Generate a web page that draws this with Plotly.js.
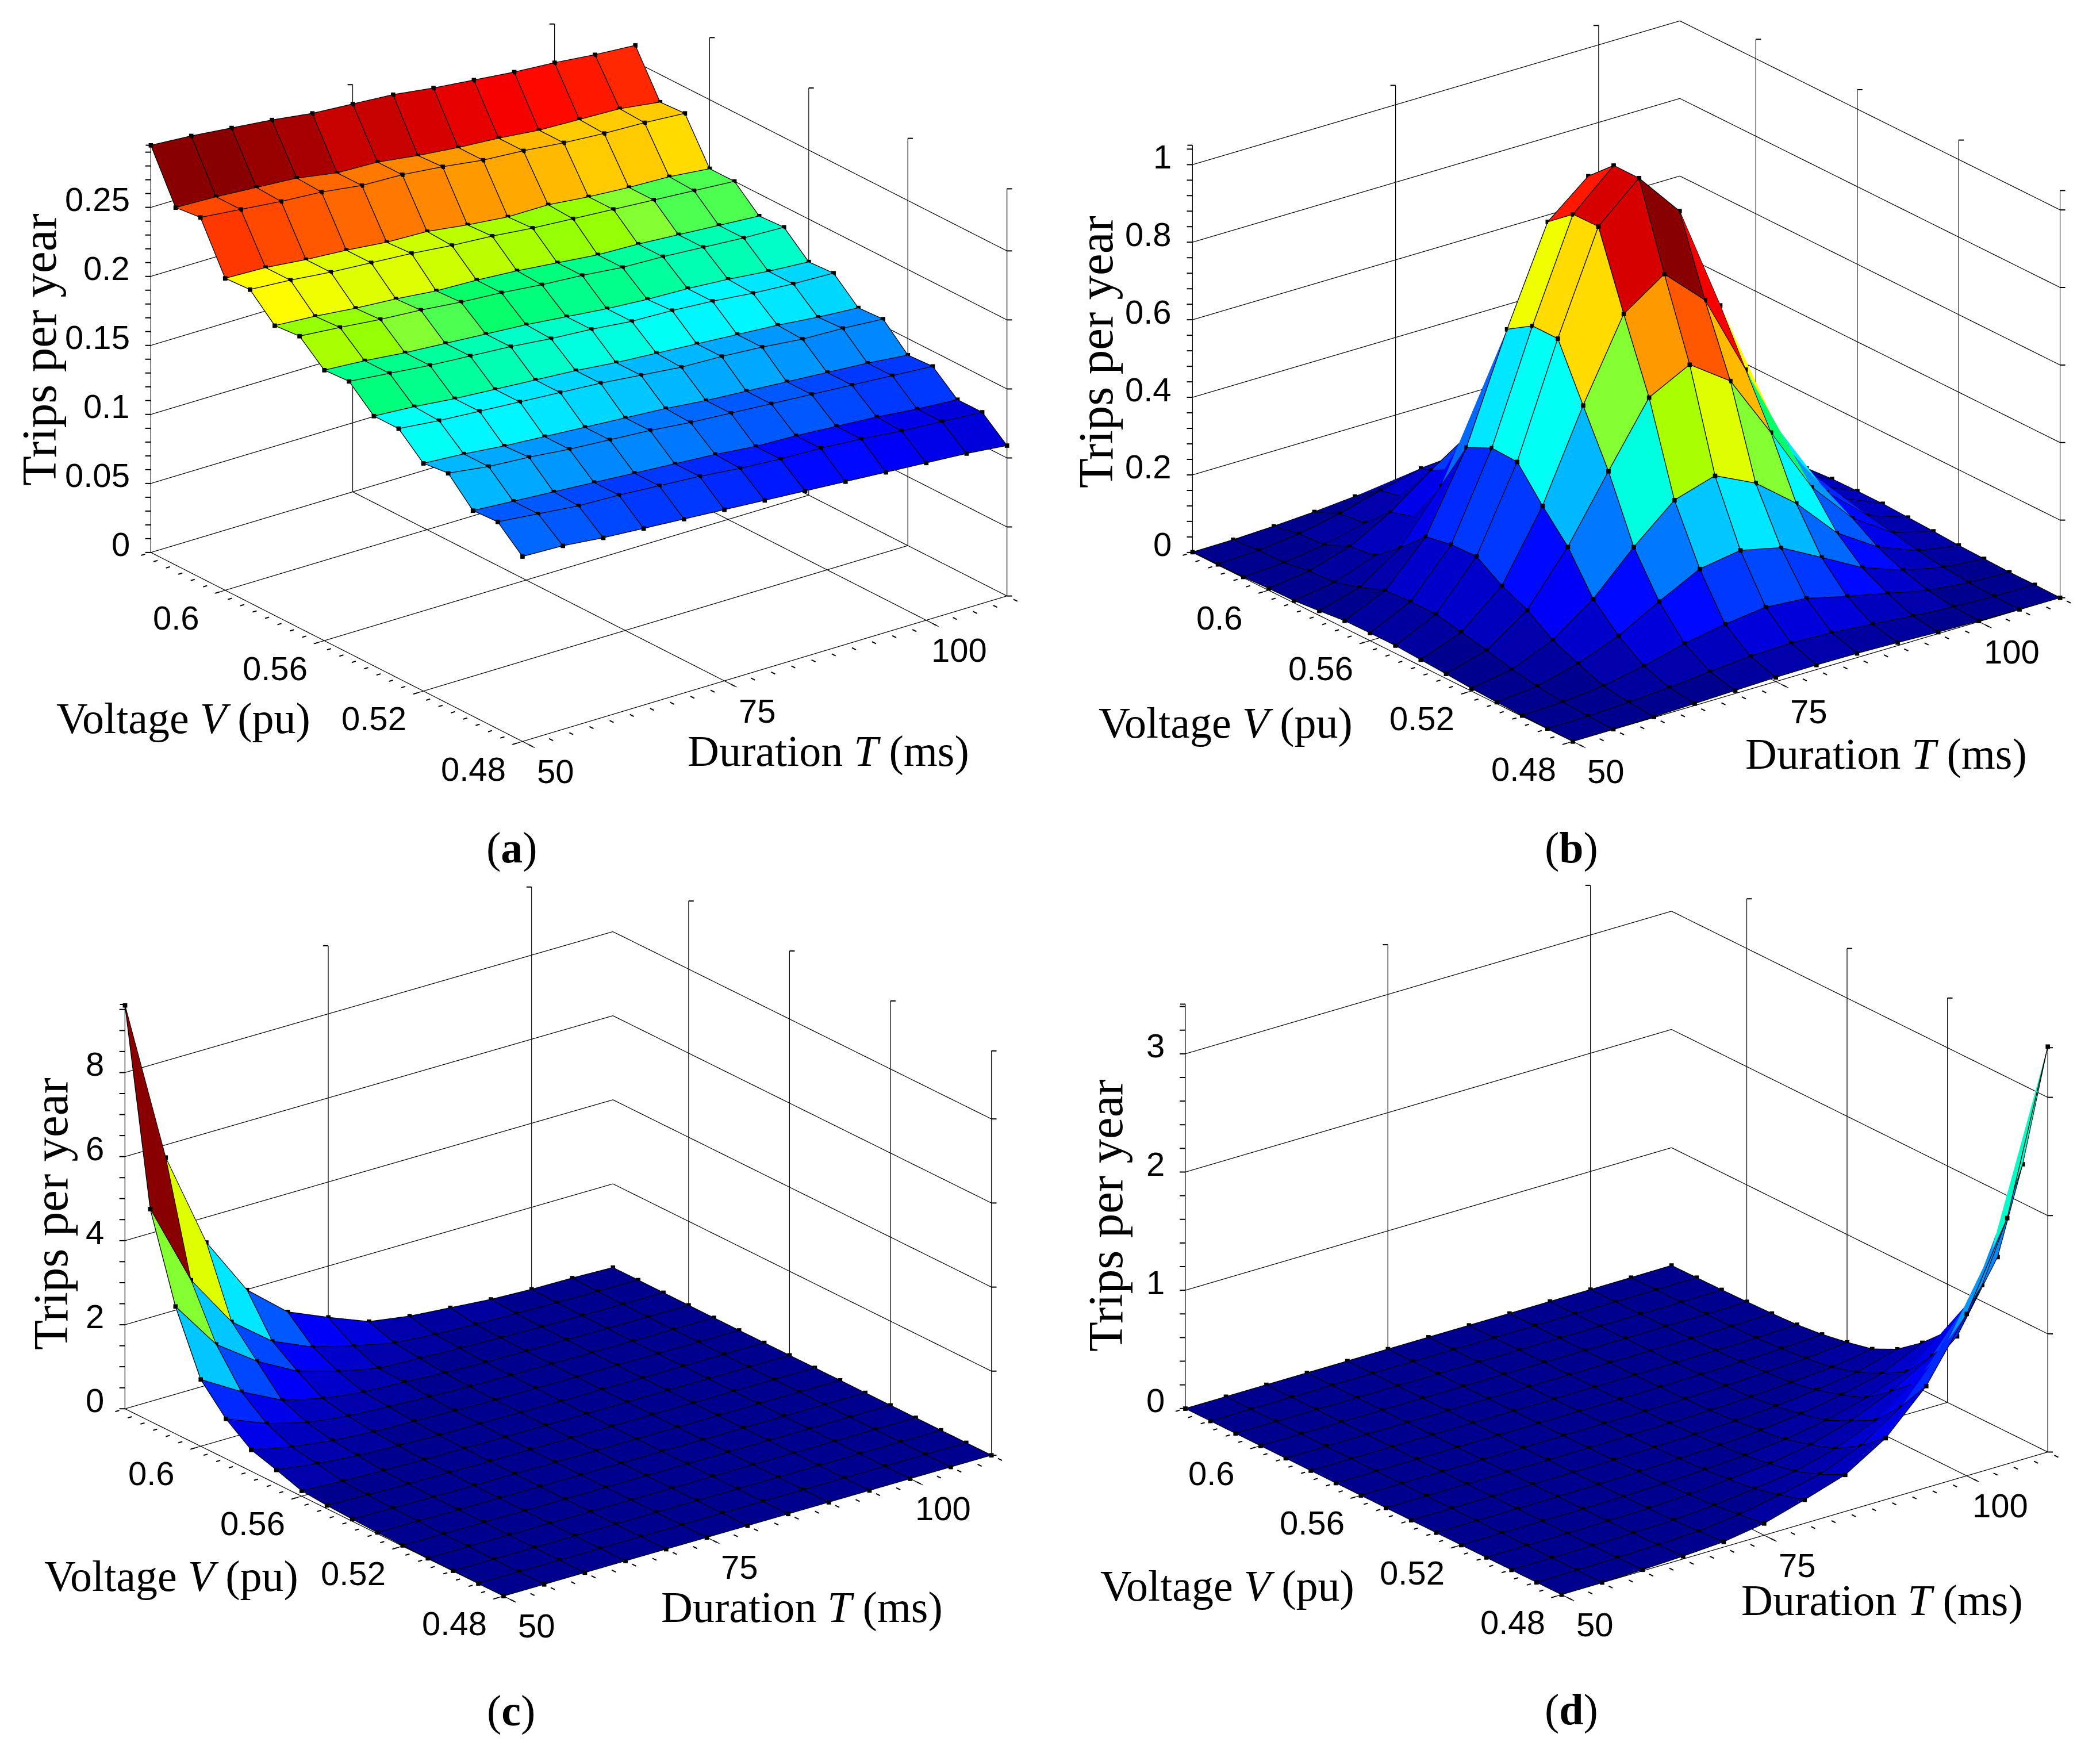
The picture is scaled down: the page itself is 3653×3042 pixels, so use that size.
<!DOCTYPE html>
<html><head><meta charset="utf-8">
<script src="https://cdn.plot.ly/plotly-3.0.1.min.js"></script>
<style>html,body{margin:0;padding:0;background:#fff;overflow:hidden}#g{width:3653px;height:3042px}</style>
</head><body><div id="g"></div>
<script>
const durations=[50,55,60,65,70,75,80,85,90,95,100,105,110];
const voltages=[0.63,0.62,0.61,0.60,0.59,0.58,0.57,0.56,0.55,0.54,0.53,0.52,0.51,0.50,0.49,0.48];
const durationTicks=[50,75,100];
const voltageTicks=[0.6,0.56,0.52,0.48];
const tripsA=[
[.295,.293,.290,.287,.283,.281,.279,.275,.272,.269,.267,.264,.262],
[.259,.258,.256,.254,.249,.248,.244,.241,.239,.236,.235,.234,.230],
[.261,.258,.255,.253,.249,.248,.245,.241,.239,.236,.234,.233,.231],
[.226,.225,.222,.220,.217,.216,.212,.209,.209,.206,.204,.203,.200],
[.227,.225,.222,.220,.218,.215,.213,.210,.208,.206,.204,.202,.200],
[.210,.208,.205,.203,.200,.199,.197,.194,.191,.190,.188,.186,.184],
[.2115,.209,.206,.204,.201,.199,.196,.194,.191,.190,.188,.186,.185],
[.196,.194,.191,.189,.187,.185,.182,.179,.177,.176,.174,.171,.169],
[.197,.194,.191,.189,.187,.184,.182,.179,.178,.176,.173,.171,.170],
[.181,.179,.176,.174,.172,.170,.167,.165,.163,.161,.159,.156,.154],
[.181,.178,.176,.174,.172,.170,.167,.164,.163,.161,.158,.157,.155],
[.165,.163,.160,.158,.156,.154,.152,.149,.147,.145,.143,.141,.138],
[.167,.163,.161,.158,.156,.154,.151,.149,.147,.145,.143,.141,.139],
[.149,.147,.145,.143,.141,.139,.137,.134,.133,.131,.129,.126,.124],
[.150,.147,.144,.143,.141,.139,.136,.134,.133,.131,.128,.126,.124],
[.134,.133,.130,.128,.126,.124,.122,.120,.118,.116,.114,.112,.109]];
const tripsB=[
[.001,.002,.006,.012,.021,.028,.031,.028,.020,.011,.005,.002,.000],
[.002,.007,.019,.040,.069,.095,.104,.092,.065,.036,.018,.006,.002],
[.002,.008,.023,.048,.083,.114,.125,.111,.078,.043,.021,.007,.002],
[.005,.019,.051,.109,.186,.255,.281,.249,.176,.097,.047,.016,.004],
[.006,.022,.060,.129,.220,.303,.333,.296,.208,.115,.056,.019,.005],
[.012,.042,.113,.242,.413,.568,.624,.554,.390,.216,.105,.036,.009],
[.019,.066,.174,.373,.647,.893,.980,.870,.611,.338,.165,.056,.014],
[.020,.070,.186,.404,.688,.945,1.04,.924,.650,.360,.175,.060,.015],
[.020,.070,.188,.401,.688,.946,1.04,.924,.650,.360,.175,.060,.015],
[.016,.056,.145,.320,.548,.753,.825,.727,.517,.286,.139,.048,.012],
[.012,.042,.115,.247,.411,.570,.624,.551,.387,.216,.105,.036,.009],
[.007,.025,.070,.145,.248,.338,.370,.320,.237,.130,.063,.022,.005],
[.004,.014,.042,.082,.140,.193,.210,.186,.130,.073,.035,.012,.003],
[.002,.006,.017,.037,.064,.083,.096,.088,.062,.039,.016,.005,.001],
[.001,.002,.007,.014,.024,.033,.036,.032,.023,.013,.006,.002,.001],
[.000,.001,.002,.005,.008,.011,.012,.011,.008,.004,.002,.001,.000]];
const tripsC=[
[9.6,5.7,3.4,1.99,1.19,.78,.40,.25,.17,.09,.05,.04,.01],
[5.05,3.08,1.81,1.07,.65,.40,.19,.11,.07,.05,.03,.02,.01],
[3.03,1.85,1.17,.65,.37,.16,.12,.08,.05,.03,.02,.01,.005],
[1.59,1.02,.54,.30,.17,.13,.07,.04,.03,.02,.01,.005,.003],
[.95,.56,.30,.18,.12,.08,.04,.03,.02,.01,.005,.004,.002],
[.51,.30,.17,.10,.07,.04,.02,.02,.01,.01,.004,.003,.001],
[.33,.20,.11,.07,.04,.03,.02,.01,.01,.004,.003,.002,.001],
[.13,.08,.05,.03,.02,.01,.01,.005,.005,.003,.002,.001,.001],
[.08,.05,.03,.02,.01,.01,.005,.004,.003,.002,.001,.001,.001],
[.05,.03,.02,.01,.01,.005,.003,.002,.002,.001,.001,.001,.000],
[.03,.02,.01,.01,.005,.003,.002,.001,.001,.001,.001,.000,.000],
[.02,.01,.01,.005,.003,.002,.001,.001,.001,.001,.000,.000,.000],
[.01,.01,.005,.003,.002,.001,.001,.001,.001,.000,.000,.000,.000],
[.01,.005,.003,.002,.001,.001,.001,.000,.000,.000,.000,.000,.000],
[.005,.003,.002,.001,.001,.001,.000,.000,.000,.000,.000,.000,.000],
[.002,.001,.001,.001,.000,.000,.000,.000,.000,.000,.000,.000,.000]];
const tripsD=[
[.000,.000,.000,.000,.000,.000,.000,.000,.000,.001,.001,.002,.004],
[.000,.000,.000,.000,.000,.000,.000,.000,.001,.001,.002,.003,.006],
[.000,.000,.000,.000,.000,.000,.000,.001,.001,.002,.003,.004,.008],
[.000,.000,.000,.000,.000,.000,.001,.001,.002,.003,.004,.007,.012],
[.000,.000,.000,.000,.000,.001,.001,.002,.003,.004,.007,.010,.018],
[.000,.000,.000,.000,.001,.001,.002,.003,.004,.007,.011,.016,.028],
[.000,.000,.000,.001,.001,.002,.003,.004,.008,.013,.020,.031,.051],
[.000,.000,.000,.001,.001,.003,.005,.008,.013,.022,.036,.054,.089],
[.000,.000,.000,.001,.002,.004,.008,.012,.020,.034,.055,.083,.137],
[.000,.000,.001,.002,.003,.007,.014,.022,.036,.060,.096,.146,.240],
[.000,.000,.001,.003,.005,.012,.023,.036,.060,.100,.160,.240,.400],
[.000,.001,.002,.004,.008,.018,.035,.054,.090,.150,.240,.360,.600],
[.000,.001,.003,.007,.013,.030,.058,.090,.150,.250,.400,.600,.990],
[.000,.001,.004,.010,.019,.043,.084,.130,.220,.360,.580,.870,1.44],
[.000,.002,.007,.016,.030,.070,.135,.210,.350,.580,.930,1.41,2.33],
[.000,.003,.010,.024,.045,.100,.200,.310,.520,.860,1.37,2.08,3.43]];
const zTicksA=[0,0.05,0.1,0.15,0.2,0.25], zLabelsA=['0','0.05','0.1','0.15','0.2','0.25'];
const zTicksB=[0,0.2,0.4,0.6,0.8,1], zLabelsB=['0','0.2','0.4','0.6','0.8','1'];
const zTicksC=[0,2,4,6,8], zLabelsC=['0','2','4','6','8'];
const zTicksD=[0,1,2,3], zLabelsD=['0','1','2','3'];
const axisTitles={z:'Trips per year',v:'Voltage <i>V</i> (pu)',t:'Duration <i>T</i> (ms)'};
const panelNames=['a','b','c','d'];
// colour table: [level, r, g, b]
const colourStops=[[0,0,0,135],[.125,0,0,255],[.25,0,128,255],[.375,0,255,255],[.45,0,255,150],[.49,0,255,110],[.52,128,255,60],[.54,150,255,0],[.63,255,255,0],[.75,255,128,0],[.875,255,0,0],[1,128,0,0]];

const W=3653,H=3042;
const SH=1340,SW=1640,REF=672.6,EYE=1.5;
const panels=[
 {z:tripsA,ticks:zTicksA,labels:zLabelsA,top:0.295,minor:0.01,L:[259,962],F:[908,1292],R:[1754,1038],zpx:711,
  tz:[68,608],tv:[319,1249],tt:[1441,1306],tp:[890,1474]},
 {z:tripsB,ticks:zTicksB,labels:zLabelsB,top:1.05,minor:0.04,L:[2071,962],F:[2735,1292],R:[3586,1041],zpx:711,
  tz:[1906,612],tv:[2132,1257],tt:[3281,1311],tp:[2733,1474]},
 {z:tripsC,ticks:zTicksC,labels:zLabelsC,top:9.62,minor:0.5,L:[214,2451],F:[875,2778],R:[1727,2532],zpx:706,
  tz:[88,2111],tv:[298,2741],tt:[1395,2795],tp:[889,2975]},
 {z:tripsD,ticks:zTicksD,labels:zLabelsD,top:3.42,minor:0.2,L:[2059,2451],F:[2716,2776],R:[3565,2527],zpx:706,
  tz:[1923,2114],tv:[2135,2758],tt:[3274,2783],tp:[2733,2973]}];

function jet(t){
  const k=Math.max(0,Math.min(63,Math.floor(t*64)));
  const x=(k+0.5)/64;
  let n=0;
  while(n<colourStops.length-2&&x>colourStops[n+1][0])n++;
  const a=colourStops[n],b=colourStops[n+1],u=(x-a[0])/(b[0]-a[0]);
  const m=q=>Math.round(a[q]+(b[q]-a[q])*u);
  return 'rgb('+m(1)+','+m(2)+','+m(3)+')';
}
function seg(arr,a,b){arr.x.push(a[0],b[0],null);arr.y.push(a[1],b[1],null);arr.z.push(a[2],b[2],null);}
const fontSans={family:'"Liberation Sans",Arial,sans-serif',size:58,color:'#000'};
const fontSerif={family:'"Liberation Serif",serif',size:76,color:'#000'};

const traces=[],layout={width:W,height:H,margin:{l:0,r:0,t:0,b:0},autosize:false,paper_bgcolor:'#fff',showlegend:false,hovermode:false,annotations:[]};
panels.forEach((p,n)=>{
  const sid=n?'scene'+(n+1):'scene';
  const tvx=p.R[0]-p.F[0],tvy=p.F[1]-p.R[1],vvx=p.F[0]-p.L[0],vvy=p.F[1]-p.L[1];
  const t1=tvy/tvx,t2=vvy/vvx,s=Math.sqrt(t1*t2),ta=t1/s;
  const al=Math.atan(ta),el=Math.asin(s);
  const LT=tvx/Math.cos(al),LV=vvx/Math.sin(al),LZ=p.zpx/Math.cos(el);
  const pxz=p.zpx/p.top;
  const Tmin=50,Tmax=110,Vmin=0.48,Vmax=0.63;
  const padT=3,padV=0.0075,padZ=0.01*p.top;
  const fx=(p.L[0]+p.R[0])/2, cy=(p.L[1]+p.R[1])/2-p.zpx/2;
  const scy=Math.max(SH/2+2,cy);
  const dz=(scy-cy)/pxz, zmid=p.top/2-dz, zh=p.top/2+dz+padZ;
  const sc={
    domain:{x:[(fx-SW/2)/W,(fx+SW/2)/W],y:[1-(scy+SH/2)/H,1-(scy-SH/2)/H]},
    aspectmode:'manual',
    aspectratio:{x:LT*(60+2*padT)/60/REF,y:LV*(0.15+2*padV)/0.15/REF,z:2*zh*pxz/Math.cos(el)/REF},
    camera:{eye:{x:-Math.sin(al)*Math.cos(el)*EYE,y:-Math.cos(al)*Math.cos(el)*EYE,z:Math.sin(el)*EYE},up:{x:0,y:0,z:1},center:{x:0,y:0,z:0},projection:{type:'orthographic'}},
    bgcolor:'rgba(0,0,0,0)',dragmode:false,
    xaxis:{range:[Tmin-padT,Tmax+padT],visible:false,showspikes:false},
    yaxis:{range:[Vmin-padV,Vmax+padV],visible:false,showspikes:false},
    zaxis:{range:[zmid-zh,zmid+zh],visible:false,showspikes:false},
    annotations:[]};
  const nv=voltages.length,nt=durations.length,mx=[],my=[],mz=[],I=[],J=[],K=[],fc=[];
  let zmin=Infinity,zmax=-Infinity;
  p.z.forEach(r=>r.forEach(v=>{zmin=Math.min(zmin,v);zmax=Math.max(zmax,v);}));
  for(let i=0;i<nv;i++)for(let j=0;j<nt;j++){mx.push(durations[j]);my.push(voltages[i]);mz.push(p.z[i][j]);}
  for(let i=0;i<nv-1;i++)for(let j=0;j<nt-1;j++){
    const a=i*nt+j,b=a+1,c=a+nt,d=c+1,col=jet((p.z[i][j]-zmin)/(zmax-zmin));
    I.push(a,a);J.push(b,d);K.push(d,c);fc.push(col,col);
  }
  traces.push({type:'mesh3d',scene:sid,x:mx,y:my,z:mz,i:I,j:J,k:K,facecolor:fc,flatshading:true,
    lighting:{ambient:1,diffuse:0,specular:0,fresnel:0,roughness:1},hoverinfo:'skip',showscale:false});
  const nudge=2.5;
  const ex=-Math.sin(al)*Math.cos(el)*nudge*60/LT,ey=-Math.cos(al)*Math.cos(el)*nudge*0.15/LV,ez=Math.sin(el)*nudge/LZ*p.top;
  const ed={x:[],y:[],z:[]},dots={x:[],y:[],z:[]};
  const P=(i,j)=>[durations[j]+ex,voltages[i]+ey,p.z[i][j]+ez];
  for(let i=0;i<nv;i++){for(let j=0;j<nt;j++){const q=P(i,j);ed.x.push(q[0]);ed.y.push(q[1]);ed.z.push(q[2]);dots.x.push(q[0]);dots.y.push(q[1]);dots.z.push(q[2]);}ed.x.push(null);ed.y.push(null);ed.z.push(null);}
  for(let j=0;j<nt;j++){for(let i=0;i<nv;i++){const q=P(i,j);ed.x.push(q[0]);ed.y.push(q[1]);ed.z.push(q[2]);}ed.x.push(null);ed.y.push(null);ed.z.push(null);}
  traces.push({type:'scatter3d',scene:sid,mode:'lines',x:ed.x,y:ed.y,z:ed.z,line:{color:'#000',width:2.6},hoverinfo:'skip',connectgaps:false});
  traces.push({type:'scatter3d',scene:sid,mode:'markers',x:dots.x,y:dots.y,z:dots.z,marker:{color:'#000',size:4,symbol:'square',line:{width:0}},hoverinfo:'skip'});
  const g={x:[],y:[],z:[]},tk={x:[],y:[],z:[]};
  p.ticks.forEach(v=>{seg(g,[Tmin,Vmax,v],[Tmax,Vmax,v]);seg(g,[Tmax,Vmax,v],[Tmax,Vmin,v]);});
  durationTicks.forEach(t=>{seg(g,[t,Vmax,0],[t,Vmax,p.top]);seg(g,[t,Vmin,0],[t,Vmax,0]);});
  voltageTicks.forEach(v=>{seg(g,[Tmax,v,0],[Tmax,v,p.top]);seg(g,[Tmin,v,0],[Tmax,v,0]);});
  seg(g,[Tmin,Vmax,0],[Tmin,Vmax,p.top]);
  seg(g,[Tmin,Vmin,0],[Tmin,Vmax,0]);
  seg(g,[Tmin,Vmin,0],[Tmax,Vmin,0]);
  seg(g,[Tmax,Vmin,0],[Tmax,Vmin,p.top]);
  durationTicks.forEach(t=>seg(g,[t,Vmin,0],[t,Vmin-0.005,0]));
  voltageTicks.forEach(v=>seg(g,[Tmin,v,0],[Tmin-1.3,v,0]));
  traces.push({type:'scatter3d',scene:sid,mode:'lines',x:g.x,y:g.y,z:g.z,line:{color:'#000',width:2.4},hoverinfo:'skip',connectgaps:false});
  for(let t=50;t<=110.01;t+=2.5)seg(tk,[t,Vmin-0.0026,0],[t,Vmin-0.0042,0]);
  for(let v=0.48;v<=0.6301;v+=0.005)seg(tk,[Tmin-0.7,v,0],[Tmin-1.2,v,0]);
  const lx=Math.cos(al),ly=0.0025*Math.sin(al);
  const nm=Math.round(p.top/p.minor);
  for(let m=0;m<=nm;m++){const v=m*p.minor;seg(tk,[Tmin,Vmax,v],[Tmin-0.55*lx,Vmax+0.55*ly,v]);}
  p.ticks.forEach(v=>seg(tk,[Tmax,Vmin,v],[Tmax+0.5*lx,Vmin-0.5*ly,v]));
  durationTicks.forEach(t=>seg(tk,[t,Vmax,p.top],[t-0.5*lx,Vmax+0.5*ly,p.top]));
  voltageTicks.forEach(v=>seg(tk,[Tmax,v,p.top],[Tmax+0.5*lx,v-0.5*ly,p.top]));
  traces.push({type:'scatter3d',scene:sid,mode:'lines',x:tk.x,y:tk.y,z:tk.z,line:{color:'#000',width:4},hoverinfo:'skip',connectgaps:false});
  p.ticks.forEach((v,k)=>sc.annotations.push({x:Tmin,y:Vmax,z:v,text:p.labels[k],showarrow:false,xanchor:'right',yanchor:'middle',xshift:-34,yshift:14,font:fontSans}));
  voltageTicks.forEach(v=>sc.annotations.push({x:Tmin,y:v,z:0,text:String(v),showarrow:false,xanchor:'center',yanchor:'middle',xshift:-85,yshift:-48,font:fontSans}));
  durationTicks.forEach(t=>sc.annotations.push({x:t,y:Vmin,z:0,text:String(t),showarrow:false,xanchor:'center',yanchor:'middle',xshift:58,yshift:-52,font:fontSans}));
  layout[sid]=sc;
  const pa=(xy,text,extra)=>layout.annotations.push(Object.assign({xref:'paper',yref:'paper',x:xy[0]/W,y:1-xy[1]/H,text:text,showarrow:false,xanchor:'center',yanchor:'middle',font:fontSerif},extra||{}));
  pa(p.tz,axisTitles.z,{textangle:-90,font:Object.assign({},fontSerif,{size:85})});
  pa(p.tv,axisTitles.v);
  pa(p.tt,axisTitles.t);
  pa(p.tp,'(<b>'+panelNames[n]+'</b>)');
});
Plotly.newPlot('g',traces,layout,{displayModeBar:false});
</script></body></html>
